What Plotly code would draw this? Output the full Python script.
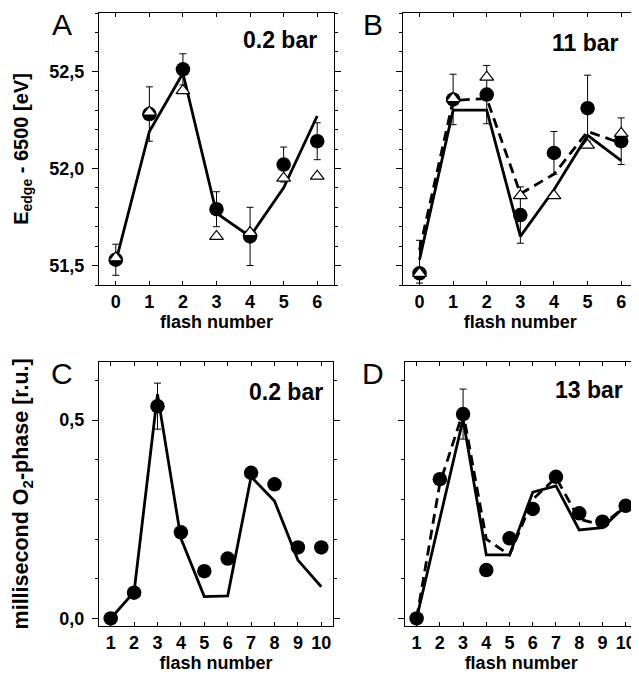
import plotly.graph_objects as go

# ---------------- data ----------------
flash_AB = [0, 1, 2, 3, 4, 5, 6]
A_circ = [51.53, 52.28, 52.51, 51.79, 51.65, 52.02, 52.14]
A_err = [0.08, 0.14, 0.08, 0.09, 0.15, 0.09, 0.095]
A_tri = [51.54, 52.29, 52.40, 51.65, 51.67, 51.95, 51.96]
A_fit = [51.52, 52.19, 52.49, 51.77, 51.65, 51.90, 52.27]

B_circ = [51.46, 52.355, 52.38, 51.76, 52.08, 52.31, 52.14]
B_err_plus = [0.17, 0.13, 0.15, 0.145, 0.11, 0.17, 0.12]
B_err_minus = [0.05, 0.13, 0.15, 0.145, 0.11, 0.17, 0.12]
B_tri = [51.46, 52.36, 52.47, 51.86, 51.86, 52.12, 52.18]
B_fit = [51.53, 52.30, 52.30, 51.65, 51.89, 52.17, 52.04]
B_fit2 = [51.58, 52.35, 52.36, 51.87, 51.97, 52.19, 52.13]

flash_CD = [1, 2, 3, 4, 5, 6, 7, 8, 9, 10]
C_circ = [0.0, 0.065, 0.535, 0.217, 0.119, 0.151, 0.367, 0.338, 0.179, 0.179]
C_err = [0, 0, 0.058, 0, 0, 0, 0, 0, 0, 0]
C_fit = [0.0, 0.067, 0.565, 0.202, 0.055, 0.057, 0.357, 0.296, 0.147, 0.08]

D_circ = [0.0, 0.351, 0.515, 0.122, 0.202, 0.276, 0.357, 0.265, 0.244, 0.284]
D_err = [0, 0, 0.063, 0, 0, 0, 0, 0, 0, 0]
D_fit = [0.0, 0.25, 0.502, 0.160, 0.160, 0.318, 0.334, 0.223, 0.229, 0.284]
D_fit2 = [0.0, 0.34, 0.52, 0.20, 0.16, 0.30, 0.355, 0.25, 0.235, 0.284]

E_ticks = [51.5, 52.0, 52.5]
E_ticktext = ["51,5", "52,0", "52,5"]
O_ticks = [0.0, 0.5]
O_ticktext = ["0,0", "0,5"]
panel_letters = ["A", "B", "C", "D"]
pressures = ["0.2 bar", "11 bar", "0.2 bar", "13 bar"]

FONT = "Liberation Sans"
fig = go.Figure()


def add_line(x, y, ax, dash="solid"):
    fig.add_trace(go.Scatter(x=x, y=y, mode="lines", xaxis="x" + ax, yaxis="y" + ax,
                             line=dict(color="black", width=2.8, dash=dash),
                             showlegend=False, hoverinfo="skip"))


def add_circ(x, y, ax, plus, minus=None):
    err = dict(type="data", array=plus, color="black", thickness=1, width=3.5, visible=True)
    if minus is not None:
        err["symmetric"] = False
        err["arrayminus"] = minus
    fig.add_trace(go.Scatter(x=x, y=y, mode="markers", xaxis="x" + ax, yaxis="y" + ax,
                             marker=dict(symbol="circle", size=14.5, color="black"),
                             error_y=err, showlegend=False, cliponaxis=True))


def add_tri(x, y, ax):
    fig.add_trace(go.Scatter(x=x, y=y, mode="markers", xaxis="x" + ax, yaxis="y" + ax,
                             marker=dict(symbol="triangle-up", size=12, color="white",
                                         line=dict(color="black", width=1.2)),
                             showlegend=False))


# Panel A
add_line(flash_AB, A_fit, "")
add_circ(flash_AB, A_circ, "", A_err)
add_tri(flash_AB, A_tri, "")
# Panel B
add_line(flash_AB, B_fit2, "2", dash="10px,6px")
add_line(flash_AB, B_fit, "2")
add_circ(flash_AB, B_circ, "2", B_err_plus, B_err_minus)
add_tri(flash_AB, B_tri, "2")
# Panel C
add_line(flash_CD, C_fit, "3")
add_circ(flash_CD, C_circ, "3", C_err)
# Panel D
add_line(flash_CD, D_fit2, "4", dash="10px,6px")
add_line(flash_CD, D_fit, "4")
add_circ(flash_CD, D_circ, "4", D_err)

tickfont = dict(family=FONT, size=18, color="black", weight="bold")

# the page body has an 8px margin, so the figure is laid out in page coords minus 8
W, H = 631, 671
xl = [91 / W, 326 / W]
xr = [394.7 / W, 630 / W]
xl2 = [91 / W, 325 / W]
xr2 = [397 / W, 629.3 / W]
yt = [1 - 277 / H, 1 - 5 / H]
yb = [1 - 618 / H, 1 - 353.7 / H]


def xaxis(domain, anchor, rng, vals):
    return dict(domain=domain, anchor=anchor, range=rng, tickvals=vals,
                ticks="inside", ticklen=4, tickwidth=1, tickcolor="black",
                showline=True, linecolor="black", linewidth=1, mirror="ticks",
                showgrid=False, zeroline=False, tickfont=tickfont,
                title=dict(text="flash number", standoff=1,
                           font=dict(family=FONT, size=18, color="black", weight="bold")),
                automargin=False)


def yaxis(domain, anchor, rng, vals, text, labels, title=None, tsize=18, standoff=3):
    d = dict(domain=domain, anchor=anchor, range=rng, tickvals=vals, ticktext=text,
             ticks="outside", ticklen=6, tickwidth=1, tickcolor="black",
             ticklabelstandoff=4,
             minor=dict(ticks="outside", dtick=0.1, tick0=0, ticklen=3, tickcolor="black"),
             showline=True, linecolor="black", linewidth=1, mirror="ticks",
             showgrid=False, zeroline=False, tickfont=tickfont,
             showticklabels=labels, automargin=False)
    if title:
        d["title"] = dict(text=title, standoff=standoff,
                          font=dict(family=FONT, size=tsize, color="black", weight="bold"))
    return d


E_range = [51.40, 52.80]
O_range = [-0.019, 0.647]

fig.update_layout(
    width=W, height=H, margin=dict(l=0, r=0, t=0, b=0),
    paper_bgcolor="white", plot_bgcolor="white",
    xaxis=xaxis(xl, "y", [-0.5, 6.5], flash_AB),
    yaxis=yaxis(yt, "x", E_range, E_ticks, E_ticktext, True,
                "E<sub>edge</sub> - 6500 [eV]", tsize=20, standoff=15),
    xaxis2=xaxis(xr, "y2", [-0.5, 6.5], flash_AB),
    yaxis2=yaxis(yt, "x2", E_range, E_ticks, E_ticktext, False),
    xaxis3=xaxis(xl2, "y3", [0.5, 10.5], flash_CD),
    yaxis3=yaxis(yb, "x3", O_range, O_ticks, O_ticktext, True,
                 "millisecond O<sub>2</sub>-phase [r.u.]", tsize=21.5, standoff=24),
    xaxis4=xaxis(xr2, "y4", [0.5, 10.5], flash_CD),
    yaxis4=yaxis(yb, "x4", O_range, O_ticks, O_ticktext, False),
)

# panel letters (paper coords)
letter_pos = [(54 / W, 1 - 17 / H), (364.5 / W, 1 - 17 / H),
              (54 / W, 1 - 365 / H), (365 / W, 1 - 365 / H)]
for lt, (px, py) in zip(panel_letters, letter_pos):
    fig.add_annotation(text=lt, x=px, y=py, xref="paper", yref="paper", showarrow=False,
                       font=dict(family=FONT, size=30, color="black"),
                       xanchor="center", yanchor="middle")

# pressure labels
pres_pos = [("x", "y", 0.77, 0.90), ("x2", "y2", 0.777, 0.89),
            ("x3", "y3", 0.80, 0.886), ("x4", "y4", 0.793, 0.893)]
for txt, (xa, ya, px, py) in zip(pressures, pres_pos):
    fig.add_annotation(text=txt, x=px, y=py, xref=xa + " domain", yref=ya + " domain",
                       showarrow=False, xanchor="center", yanchor="middle",
                       font=dict(family=FONT, size=23, color="black", weight="bold"))

fig.write_html("out.html")
